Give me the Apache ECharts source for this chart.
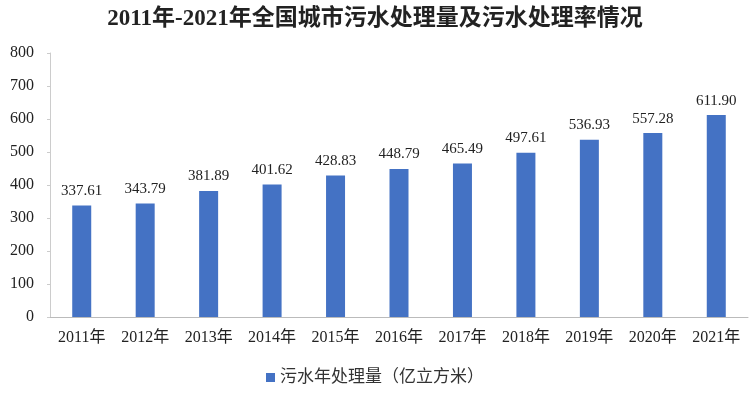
<!DOCTYPE html>
<html><head><meta charset="utf-8">
<script src="https://cdn.jsdelivr.net/npm/echarts@6/dist/echarts.min.js"></script>
<style>html,body{margin:0;padding:0;background:#fff}#c{width:750px;height:393px}</style>
</head><body><div id="c"></div>
<script>
const categories = ['2011年','2012年','2013年','2014年','2015年','2016年','2017年','2018年','2019年','2020年','2021年'];
const values = [337.61,343.79,381.89,401.62,428.83,448.79,465.49,497.61,536.93,557.28,611.90];
const seriesName = '污水年处理量（亿立方米）';
const titleText = '2011年-2021年全国城市污水处理量及污水处理率情况';
const FONT = '"Liberation Serif", "Noto Sans CJK SC", serif';
const chart = echarts.init(document.getElementById('c'));
chart.setOption({
  animation:false,
  title:{text:titleText,left:'center',top:3,textStyle:{fontFamily:FONT,fontSize:23,fontWeight:'bold',color:'#222'}},
  legend:{bottom:2,left:'center',itemWidth:9,itemHeight:9,icon:'rect',itemGap:4,
    textStyle:{fontFamily:FONT,fontSize:17,color:'#333'}},
  grid:{left:50,right:2,top:53,bottom:76,containLabel:false},
  xAxis:{type:'category',data:categories,
    axisLine:{lineStyle:{color:'#bbb'}},axisTick:{show:false},
    axisLabel:{fontFamily:FONT,fontSize:16,color:'#222',margin:13}},
  yAxis:{type:'value',min:0,max:800,interval:100,
    axisLine:{show:true,lineStyle:{color:'#ccc'}},axisTick:{show:true,length:3,lineStyle:{color:'#ccc'}},
    splitLine:{show:false},
    axisLabel:{fontFamily:FONT,fontSize:16,color:'#222',margin:16}},
  series:[{name:seriesName,type:'bar',data:values,barWidth:19,
    itemStyle:{color:'#4472C4'},
    label:{show:true,position:'top',distance:7,fontFamily:FONT,fontSize:15,color:'#222',
      formatter:p=>p.value.toFixed(2)}}]
});
</script></body></html>
